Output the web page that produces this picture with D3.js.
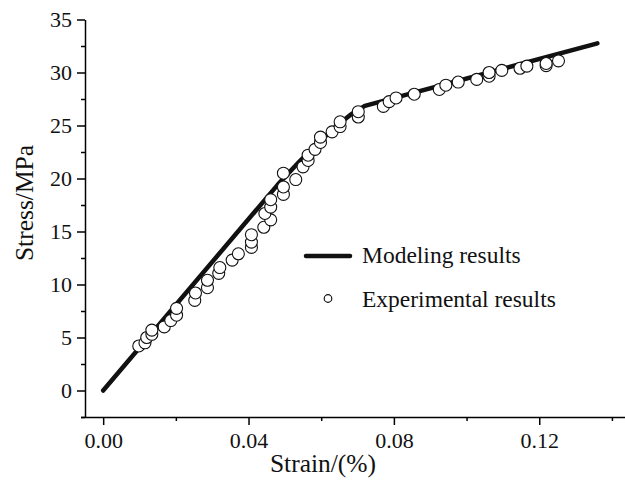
<!DOCTYPE html>
<html>
<head>
<meta charset="utf-8">
<script src="https://cdn.jsdelivr.net/npm/d3@7"></script>
<style>
  html, body { margin: 0; padding: 0; background: #fff; }
  svg { display: block; font-family: "Liberation Serif", "Times New Roman", serif; }
</style>
</head>
<body>
<div id="chart"></div>
<script>
// modeled stress-strain curve
const modelStrain = [0, 0.048, 0.054, 0.059, 0.064, 0.068, 0.072, 0.136];
const modelStress = [0, 19.4, 21.6, 23.3, 24.9, 26.0, 26.85, 32.75];

// experimental points
const expStrain = [0.0098, 0.0115, 0.0120, 0.0134, 0.0134, 0.0168, 0.0186, 0.0202, 0.0202,
  0.0252, 0.0254, 0.0287, 0.0287, 0.0318, 0.0321, 0.0355, 0.0372, 0.0408, 0.0408, 0.0408,
  0.0442, 0.0461, 0.0445, 0.0461, 0.0461, 0.0496, 0.0496, 0.0496, 0.0530, 0.0550, 0.0564,
  0.0564, 0.0583, 0.0598, 0.0598, 0.0630, 0.0652, 0.0652, 0.0702, 0.0702, 0.0771, 0.0787,
  0.0806, 0.0856, 0.0925, 0.0943, 0.0977, 0.1028, 0.1062, 0.1062, 0.1097, 0.1147, 0.1166,
  0.1219, 0.1219, 0.1253];
const expStress = [4.2, 4.5, 5.0, 5.3, 5.7, 6.0, 6.6, 7.1, 7.75,
  8.5, 9.2, 9.7, 10.4, 11.05, 11.6, 12.3, 12.9, 13.5, 14.0, 14.7,
  15.4, 16.1, 16.7, 17.3, 18.0, 18.5, 19.2, 20.5, 19.9, 21.1, 21.7,
  22.2, 22.75, 23.4, 23.9, 24.4, 24.9, 25.35, 25.8, 26.3, 26.8, 27.25,
  27.6, 27.95, 28.4, 28.8, 29.1, 29.35, 29.65, 30.0, 30.2, 30.4, 30.6,
  30.65, 30.85, 31.1];

// ticks
const xMajor = [0, 0.04, 0.08, 0.12];
const xMinor = [0.02, 0.06, 0.10, 0.14];
const yMajor = [0, 5, 10, 15, 20, 25, 30, 35];
const yMinor = [-2.5, 2.5, 7.5, 12.5, 17.5, 22.5, 27.5, 32.5];

const legendLabels = ['Modeling results', 'Experimental results'];

const width = 625, height = 493;
const svg = d3.select('#chart').append('svg')
  .attr('width', width)
  .attr('height', height);

const x = d3.scaleLinear().domain([-0.005, 0.1436]).range([85, 625]);
const y = d3.scaleLinear().domain([-2.5, 35]).range([417, 19.5]);

// axes
function styleAxis(g) {
  g.select('.domain').attr('stroke', '#000').attr('stroke-width', 1.5);
  g.selectAll('.tick line').attr('stroke', '#000').attr('stroke-width', 1.5);
  g.selectAll('.tick text')
    .attr('fill', '#111')
    .style('font-size', '22px')
    .style('font-family', '"Liberation Serif", serif');
}

svg.append('g')
  .attr('transform', `translate(0,${y(-2.5)})`)
  .call(d3.axisBottom(x).tickValues(xMinor).tickSize(4).tickFormat(''))
  .call(g => { styleAxis(g); g.select('.domain').remove(); });

svg.append('g')
  .attr('transform', `translate(0,${y(-2.5)})`)
  .call(d3.axisBottom(x).tickValues(xMajor).tickSize(8).tickSizeOuter(0).tickPadding(7)
    .tickFormat(d3.format('.2f')))
  .call(styleAxis)
  .call(g => g.select('.domain').attr('d', `M81,0.5H${width}`));

svg.append('g')
  .attr('transform', `translate(${x(-0.005)},0)`)
  .call(d3.axisLeft(y).tickValues(yMinor).tickSize(4).tickFormat(''))
  .call(g => { styleAxis(g); g.select('.domain').remove(); });

svg.append('g')
  .attr('transform', `translate(${x(-0.005)},0)`)
  .call(d3.axisLeft(y).tickValues(yMajor).tickSize(8).tickSizeOuter(0).tickPadding(5))
  .call(styleAxis);

// axis titles
svg.append('text')
  .attr('x', 323).attr('y', 472)
  .attr('text-anchor', 'middle')
  .style('font-size', '25.5px')
  .attr('fill', '#111')
  .text('Strain/(%)');

svg.append('text')
  .attr('transform', 'translate(33,203) rotate(-90)')
  .attr('text-anchor', 'middle')
  .style('font-size', '25.5px')
  .attr('fill', '#111')
  .text('Stress/MPa');

// model line
const line = d3.line()
  .x((d, i) => x(modelStrain[i]))
  .y((d, i) => y(modelStress[i]));

svg.append('path')
  .datum(modelStrain)
  .attr('d', line)
  .attr('fill', 'none')
  .attr('stroke', '#111')
  .attr('stroke-width', 4.5)
  .attr('stroke-linecap', 'round')
  .attr('stroke-linejoin', 'round');

// experimental points
svg.append('g')
  .selectAll('circle')
  .data(expStrain)
  .join('circle')
  .attr('cx', d => x(d))
  .attr('cy', (d, i) => y(expStress[i]))
  .attr('r', 6)
  .attr('fill', '#fff')
  .attr('stroke', '#111')
  .attr('stroke-width', 1.1);

// legend
const legend = svg.append('g');
legend.append('line')
  .attr('x1', 306).attr('x2', 350)
  .attr('y1', 256).attr('y2', 256)
  .attr('stroke', '#111')
  .attr('stroke-width', 4.5)
  .attr('stroke-linecap', 'round');
legend.append('circle')
  .attr('cx', 328).attr('cy', 298.5)
  .attr('r', 3.8)
  .attr('fill', '#fff')
  .attr('stroke', '#111')
  .attr('stroke-width', 1.2);
legend.selectAll('text.lab')
  .data(legendLabels)
  .join('text')
  .attr('class', 'lab')
  .attr('x', 362)
  .attr('y', (d, i) => 263 + i * 44)
  .style('font-size', '23.5px')
  .attr('fill', '#111')
  .text(d => d);
</script>
</body>
</html>
